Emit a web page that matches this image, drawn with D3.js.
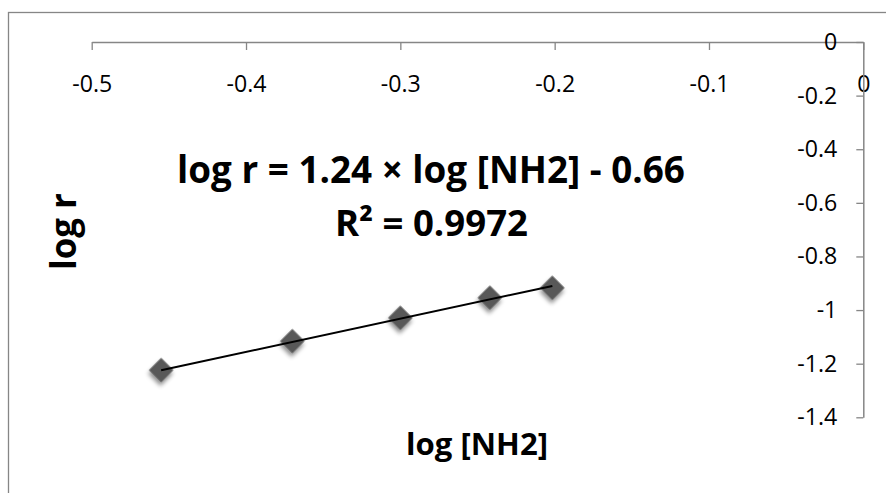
<!DOCTYPE html>
<html><head><meta charset="utf-8">
<script src="https://cdn.jsdelivr.net/npm/d3@7"></script>
<style>html,body{margin:0;padding:0;background:#fff;overflow:hidden}</style>
</head><body>
<svg id="c" width="886" height="493"></svg>
<script>
// ---- data ----
const logNH2 = [-0.455, -0.370, -0.300, -0.242, -0.2015];
const logR   = [-1.224, -1.116, -1.029, -0.954, -0.917];
const xTicks = [-0.5, -0.4, -0.3, -0.2, -0.1, 0];
const yTicks = [0, -0.2, -0.4, -0.6, -0.8, -1, -1.2, -1.4];
const trendSlope = 1.24;
const trendIntercept = -0.66;
const eqText = "log r = 1.24 \u00d7 log [NH2] - 0.66";
const r2Text = "R\u00b2 = 0.9972";
const xTitle = "log [NH2]";
const yTitle = "log r";

const svg = d3.select("#c");
const FONT = "'Open Sans', sans-serif";
const axisColor = "#868686";

const x = d3.scaleLinear().domain([-0.5, 0]).range([91.7, 863.3]);
const y = d3.scaleLinear().domain([0, -1.4]).range([42, 417.3]);

// helper: font size to fit target width
function fitSize(text, weight, target) {
  const t = svg.append("text").attr("font-family", FONT).attr("font-weight", weight)
    .attr("font-size", 100).text(text);
  const w = t.node().getComputedTextLength();
  t.remove();
  return 100 * target / w;
}

// outer border
svg.append("rect").attr("x", 8.5).attr("y", 12.5).attr("width", 900).attr("height", 600)
  .attr("fill", "none").attr("stroke", axisColor).attr("stroke-width", 1.3);

const tickSize = fitSize("-0.5", 400, 40);
const fmt = d => String(d);

// x axis (top, at y=0)
const gx = svg.append("g").attr("transform", `translate(0,${y(0)})`)
  .call(d3.axisBottom(x).tickValues(xTicks).tickSize(8).tickSizeOuter(0).tickFormat(fmt).tickPadding(26));
gx.select(".domain").attr("stroke", axisColor).attr("stroke-width", 1.5);
gx.selectAll(".tick line").attr("stroke", axisColor).attr("stroke-width", 1.3);
gx.selectAll(".tick text").attr("font-family", FONT).attr("font-size", tickSize).attr("fill", "#000")
  .attr("dy", "0.71em");

// y axis (right, at x=0)
const gy = svg.append("g").attr("transform", `translate(${x(0)},0)`)
  .call(d3.axisLeft(y).tickValues(yTicks).tickSize(7).tickSizeOuter(0).tickFormat(fmt).tickPadding(19));
gy.select(".domain").attr("stroke", axisColor).attr("stroke-width", 1.5);
gy.selectAll(".tick line").attr("stroke", axisColor).attr("stroke-width", 1.3);
gy.selectAll(".tick text").attr("font-family", FONT).attr("font-size", tickSize).attr("fill", "#000");

// shadow filter
const defs = svg.append("defs");
const f = defs.append("filter").attr("id", "sh").attr("x", "-50%").attr("y", "-50%").attr("width", "200%").attr("height", "200%");
f.append("feDropShadow").attr("dx", 2).attr("dy", 3).attr("stdDeviation", 2)
  .attr("flood-color", "#000").attr("flood-opacity", 0.45);

// markers
const pts = logNH2.map((v, i) => [v, logR[i]]);
svg.append("g").selectAll("path").data(pts).join("path")
  .attr("d", d3.symbol(d3.symbolSquare, 300)())
  .attr("transform", d => `translate(${x(d[0])},${y(d[1])}) rotate(45)`)
  .attr("fill", "#595959").attr("filter", "url(#sh)");

// trendline
const x0 = d3.min(logNH2), x1 = d3.max(logNH2);
svg.append("line")
  .attr("x1", x(x0)).attr("y1", y(trendSlope * x0 + trendIntercept))
  .attr("x2", x(x1)).attr("y2", y(trendSlope * x1 + trendIntercept))
  .attr("stroke", "#000").attr("stroke-width", 2);

// equation
const eqSize = fitSize(eqText, 700, 508);
svg.append("text").attr("x", 431).attr("y", 183).attr("text-anchor", "middle")
  .attr("font-family", FONT).attr("font-weight", 700).attr("font-size", eqSize).text(eqText);
svg.append("text").attr("x", 431.5).attr("y", 236).attr("text-anchor", "middle")
  .attr("font-family", FONT).attr("font-weight", 700).attr("font-size", fitSize(r2Text, 700, 193)).text(r2Text);

// axis titles
svg.append("text").attr("x", 477).attr("y", 455).attr("text-anchor", "middle")
  .attr("font-family", FONT).attr("font-weight", 700).attr("font-size", fitSize(xTitle, 700, 142)).text(xTitle);
svg.append("text").attr("transform", "translate(76,231.5) rotate(-90)").attr("text-anchor", "middle")
  .attr("font-family", FONT).attr("font-weight", 700).attr("font-size", fitSize(yTitle, 700, 77)).text(yTitle);
</script>
</body></html>
